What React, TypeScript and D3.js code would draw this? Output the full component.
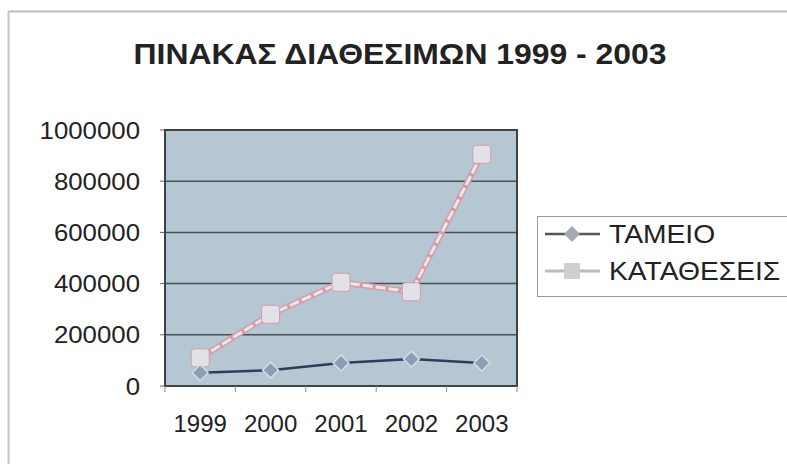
import React from "react";
import * as d3 from "d3";

const years = ["1999", "2000", "2001", "2002", "2003"];
const tameio = [52000, 62000, 90000, 105000, 90000];
const katatheseis = [110000, 280000, 405000, 368000, 905000];
const yTicks = [0, 200000, 400000, 600000, 800000, 1000000];
const seriesNames = ["ΤΑΜΕΙΟ", "ΚΑΤΑΘΕΣΕΙΣ"];
const title = "ΠΙΝΑΚΑΣ ΔΙΑΘΕΣΙΜΩΝ 1999 - 2003";

export default function App() {
  const W = 787, H = 464;
  const left = 165, right = 517, top = 130, bottom = 386;
  const x = d3.scaleBand<string>().domain(years).range([left, right]);
  const y = d3.scaleLinear().domain([0, 1000000]).range([bottom, top]);
  const cx = (d: string) => (x(d) as number) + x.bandwidth() / 2;
  const line = d3.line<number>().x((_, i) => cx(years[i])).y((v) => y(v));
  const font = "Arial, 'Liberation Sans', sans-serif";
  return (
    <svg width={W} height={H} style={{ position: "absolute", left: 0, top: 0, background: "#fff" }}>
      <line x1={8} y1={11.5} x2={W} y2={11.5} stroke="#bdbdbd" strokeWidth={2} />
      <line x1={8.5} y1={11} x2={8.5} y2={H} stroke="#c4c4c4" strokeWidth={2} />
      <text transform="translate(400,64) scale(1.1,1)" textAnchor="middle" fontFamily={font} fontWeight="bold" fontSize={29} fill="#222">{title}</text>
      <rect x={left} y={top} width={right - left} height={bottom - top} fill="#b5c7d2" />
      {yTicks.map((t) => (
        <g key={t}>
          {t > 0 && t < 1000000 && <line x1={left} x2={right} y1={y(t)} y2={y(t)} stroke="#4a4f55" strokeWidth={1.5} />}
          <line x1={left - 5} x2={left} y1={y(t)} y2={y(t)} stroke="#666" strokeWidth={1} />
          <text transform={`translate(140,${y(t) + 8.5}) scale(1.075,1)`} textAnchor="end" fontFamily={font} fontSize={24} fill="#222">{t}</text>
        </g>
      ))}
      <rect x={left} y={top} width={right - left} height={bottom - top} fill="none" stroke="#3d4247" strokeWidth={2} />
      {[...years.map((d) => x(d) as number), right].map((v, i) => (
        <line key={i} x1={v} x2={v} y1={bottom} y2={bottom + 6} stroke="#888" strokeWidth={1} />
      ))}
      {years.map((d) => (
        <text key={d} x={cx(d)} y={432} textAnchor="middle" fontFamily={font} fontSize={24} fill="#222">{d}</text>
      ))}
      <path d={line(katatheseis) || ""} fill="none" stroke="#d99aa6" strokeWidth={6} />
      <path d={line(katatheseis) || ""} fill="none" stroke="#e8e8ec" strokeWidth={3} strokeDasharray="10 3" />
      <path d={line(tameio) || ""} fill="none" stroke="#2f3d5c" strokeWidth={2.5} />
      {katatheseis.map((v, i) => (
        <rect key={i} x={cx(years[i]) - 9} y={y(v) - 9} width={18} height={18} rx={3} fill="#e1e2e7" stroke="#d99aa6" strokeWidth={1} />
      ))}
      {tameio.map((v, i) => {
        const px = cx(years[i]), py = y(v);
        return <path key={i} d={`M${px},${py - 8}L${px + 8},${py}L${px},${py + 8}L${px - 8},${py}Z`} fill="#8e9db4" stroke="#d6dce6" strokeWidth={1.5} />;
      })}
      <rect x={537.5} y={216.5} width={W - 537} height={80} fill="#fff" stroke="#999" strokeWidth={1} />
      <line x1={545} x2={600} y1={234} y2={234} stroke="#555" strokeWidth={2.5} />
      <path d="M572,226L580,234L572,242L564,234Z" fill="#a5a9b0" />
      <text transform="translate(609,243) scale(1.13,1)" fontFamily={font} fontSize={25} fill="#222">{seriesNames[0]}</text>
      <line x1={545} x2={600} y1={271} y2={271} stroke="#bbb" strokeWidth={3} />
      <rect x={564} y={263} width={16} height={16} fill="#cfcfd2" />
      <text transform="translate(609,280) scale(1.13,1)" fontFamily={font} fontSize={25} fill="#222">{seriesNames[1]}</text>
    </svg>
  );
}
